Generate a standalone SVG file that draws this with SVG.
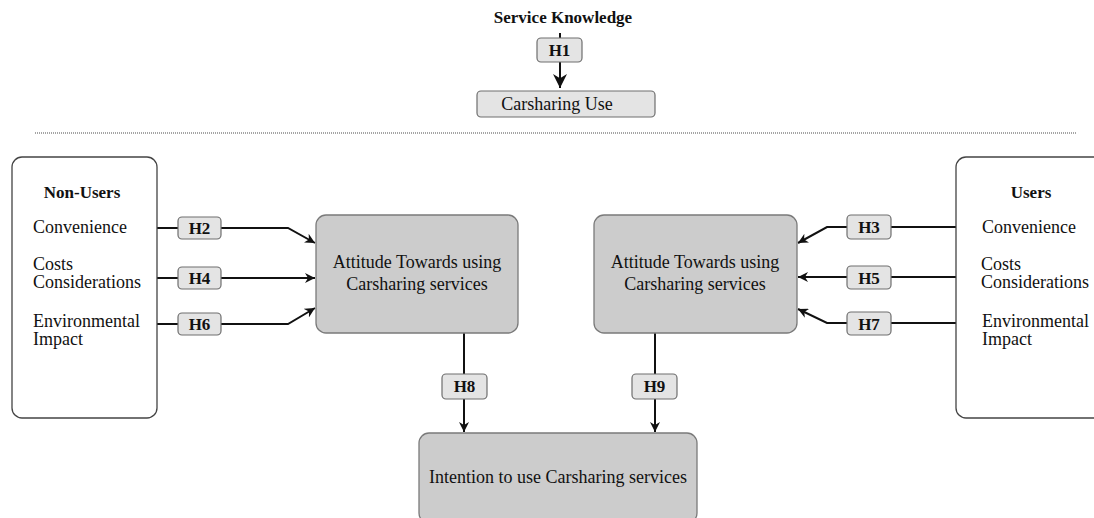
<svg xmlns="http://www.w3.org/2000/svg" width="1094" height="518" viewBox="0 0 1094 518">
  <style>
    text { font-family: "Liberation Serif", "Times New Roman", serif; fill: #111; }
    .t { font-size: 18px; }
    .b { font-size: 17px; font-weight: bold; }
    .hbox { fill: #e4e4e4; stroke: #6e6e6e; stroke-width: 1.2; }
    .grp { fill: #ffffff; stroke: #444; stroke-width: 1.3; }
    .att { fill: #cccccc; stroke: #7a7a7a; stroke-width: 1.3; }
    .conn { fill: none; stroke: #111; stroke-width: 2; }
  </style>
  <defs>
    <marker id="arr" viewBox="0 0 10 10" refX="10" refY="5" markerWidth="10" markerHeight="10" markerUnits="userSpaceOnUse" orient="auto">
      <path d="M0,0 L10,5 L0,10 L3,5 Z" fill="#111"/>
    </marker>
    <marker id="arrBig" viewBox="0 0 10 10" refX="10" refY="5" markerWidth="14" markerHeight="14" markerUnits="userSpaceOnUse" orient="auto">
      <path d="M0,0 L10,5 L0,10 L3,5 Z" fill="#111"/>
    </marker>
  </defs>

  <!-- connectors -->
  <g id="connectors">
    <path class="conn" d="M560,33 V88" marker-end="url(#arrBig)"/>
    <!-- non-users side -->
    <path class="conn" d="M145,228 H288 L315,243" marker-end="url(#arr)"/>
    <path class="conn" d="M145,278 H315" marker-end="url(#arr)"/>
    <path class="conn" d="M145,324 H288 L315,308" marker-end="url(#arr)"/>
    <!-- users side -->
    <path class="conn" d="M969,227 H827 L798,243" marker-end="url(#arr)"/>
    <path class="conn" d="M969,277 H798" marker-end="url(#arr)"/>
    <path class="conn" d="M969,323 H827 L798,309" marker-end="url(#arr)"/>
    <!-- to intention -->
    <path class="conn" d="M464,333 V432" marker-end="url(#arr)"/>
    <path class="conn" d="M655,333 V432" marker-end="url(#arr)"/>
  </g>

  <!-- separator -->
  <line x1="35" y1="133" x2="1077" y2="133" stroke="#888" stroke-width="1.5" stroke-dasharray="1 1"/>

  <g id="service-knowledge">
    <text class="b" x="563" y="23" text-anchor="middle">Service Knowledge</text>
  </g>
  <g id="h1">
    <rect class="hbox" x="537" y="38" width="45" height="24" rx="4"/>
    <text class="b" x="559.5" y="56" text-anchor="middle">H1</text>
  </g>
  <g id="carsharing-use">
    <rect class="hbox" x="477" y="91" width="178" height="26" rx="4"/>
    <text class="t" x="557" y="110" text-anchor="middle">Carsharing Use</text>
  </g>

  <g id="non-users">
    <rect class="grp" x="12" y="157" width="145" height="261" rx="10"/>
    <text class="b" x="82" y="198" text-anchor="middle">Non-Users</text>
    <text class="t" x="33" y="233">Convenience</text>
    <text class="t" x="33" y="270">Costs</text>
    <text class="t" x="33" y="288">Considerations</text>
    <text class="t" x="33" y="327">Environmental</text>
    <text class="t" x="33" y="345">Impact</text>
  </g>

  <g id="users">
    <rect class="grp" x="956" y="157" width="160" height="261" rx="10"/>
    <text class="b" x="1031" y="198" text-anchor="middle">Users</text>
    <text class="t" x="982" y="233">Convenience</text>
    <text class="t" x="981" y="270">Costs</text>
    <text class="t" x="981" y="288">Considerations</text>
    <text class="t" x="982" y="327">Environmental</text>
    <text class="t" x="982" y="345">Impact</text>
  </g>

  <g id="attitude-non-users">
    <rect class="att" x="316" y="215" width="202" height="118" rx="10"/>
    <text class="t" x="417" y="268" text-anchor="middle">Attitude Towards using</text>
    <text class="t" x="417" y="290" text-anchor="middle">Carsharing services</text>
  </g>
  <g id="attitude-users">
    <rect class="att" x="594" y="215" width="203" height="118" rx="10"/>
    <text class="t" x="695" y="268" text-anchor="middle">Attitude Towards using</text>
    <text class="t" x="695" y="290" text-anchor="middle">Carsharing services</text>
  </g>

  <g id="intention">
    <rect class="att" x="419" y="433" width="278" height="90" rx="10"/>
    <text class="t" x="558" y="483" text-anchor="middle">Intention to use Carsharing services</text>
  </g>

  <g id="h2"><rect class="hbox" x="178" y="217" width="43" height="22" rx="4"/><text class="b" x="199.5" y="234" text-anchor="middle">H2</text></g>
  <g id="h4"><rect class="hbox" x="178" y="267" width="43" height="22" rx="4"/><text class="b" x="199.5" y="284" text-anchor="middle">H4</text></g>
  <g id="h6"><rect class="hbox" x="178" y="313" width="43" height="22" rx="4"/><text class="b" x="199.5" y="330" text-anchor="middle">H6</text></g>
  <g id="h3"><rect class="hbox" x="847" y="215" width="44" height="24" rx="4"/><text class="b" x="869" y="233" text-anchor="middle">H3</text></g>
  <g id="h5"><rect class="hbox" x="847" y="266" width="44" height="23" rx="4"/><text class="b" x="869" y="283.5" text-anchor="middle">H5</text></g>
  <g id="h7"><rect class="hbox" x="847" y="312" width="44" height="23" rx="4"/><text class="b" x="869" y="329.5" text-anchor="middle">H7</text></g>
  <g id="h8"><rect class="hbox" x="442" y="374" width="45" height="25" rx="4"/><text class="b" x="464.5" y="392" text-anchor="middle">H8</text></g>
  <g id="h9"><rect class="hbox" x="632" y="374" width="45" height="25" rx="4"/><text class="b" x="654.5" y="392" text-anchor="middle">H9</text></g>
</svg>
